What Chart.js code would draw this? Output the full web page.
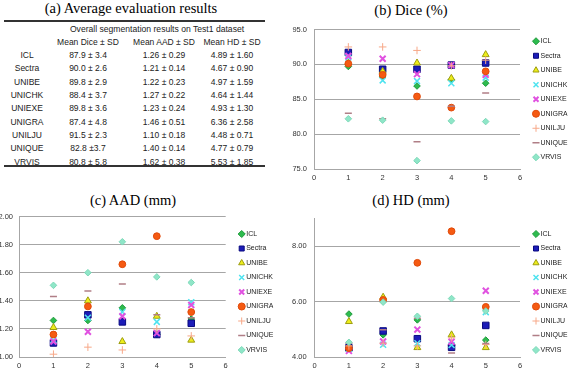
<!DOCTYPE html>
<html>
<head>
<meta charset="utf-8">
<script src="https://cdn.jsdelivr.net/npm/chart.js@4.4.0/dist/chart.umd.min.js"></script>
<style>
body { margin: 0; width: 568px; height: 380px; background: #fff; position: relative; overflow: hidden; font-family: "Liberation Sans", Arial, sans-serif; }
.title { position: absolute; font-family: "Liberation Serif", "Times New Roman", serif; font-size: 14.5px; line-height: 1; color: #000; white-space: nowrap; transform: translate(-50%, -50%); }
.cell { position: absolute; font-size: 8.5px; line-height: 1; color: #222; white-space: nowrap; transform: translate(-50%, -50%); }
.rule { position: absolute; left: 4px; width: 261px; height: 2px; background: #333; }
.box { position: absolute; }
</style>
</head>
<body>

<div class="title" style="left:131px; top:8px">(a) Average evaluation results</div>
<div class="title" style="left:411px; top:10px">(b) Dice (%)</div>
<div class="title" style="left:133px; top:200px">(c) AAD (mm)</div>
<div class="title" style="left:411px; top:200px">(d) HD (mm)</div>

<div class="rule" style="top:20px"></div>
<div class="rule" style="top:165px"></div>
<div id="table"></div>

<div class="box" style="left:284px; top:18px"><canvas id="dice" width="284" height="165"></canvas></div>
<div class="box" style="left:0px; top:206px"><canvas id="aad" width="284" height="165"></canvas></div>
<div class="box" style="left:284px; top:206px"><canvas id="hd" width="284" height="165"></canvas></div>

<script>
// test cases on the x axis
var cases = [1, 2, 3, 4, 5];

var teams = ['ICL', 'Sectra', 'UNIBE', 'UNICHK', 'UNIEXE', 'UNIGRA', 'UNILJU', 'UNIQUE', 'VRVIS'];

// table (a)
var tableCaption = 'Overall segmentation results on Test1 dataset';
var tableHeads = ['Mean Dice \u00b1 SD', 'Mean AAD \u00b1 SD', 'Mean HD \u00b1 SD'];
var meanDice = ['87.9 \u00b1 3.4', '90.0 \u00b1 2.6', '89.8 \u00b1 2.9', '88.4 \u00b1 3.7', '89.8 \u00b1 3.6',
                '87.4 \u00b1 4.8', '91.5 \u00b1 2.3', '82.8 \u00b13.7', '80.8 \u00b1 5.8'];
var meanAAD = ['1.26 \u00b1 0.29', '1.21 \u00b1 0.14', '1.22 \u00b1 0.23', '1.27 \u00b1 0.22', '1.23 \u00b1 0.24',
               '1.46 \u00b1 0.51', '1.10 \u00b1 0.18', '1.40 \u00b1 0.14', '1.62 \u00b1 0.38'];
var meanHD = ['4.89 \u00b1 1.60', '4.67 \u00b1 0.90', '4.97 \u00b1 1.59', '4.64 \u00b1 1.44', '4.93 \u00b1 1.30',
              '6.36 \u00b1 2.58', '4.48 \u00b1 0.71', '4.77 \u00b1 0.79', '5.53 \u00b1 1.85'];

// per-case values, one row per team (same order as teams)
var diceValues = [
    [89.7, 88.2, 86.9, 87.8, 87.3],
    [91.7, 89.3, 89.3, 89.9, 90.2],
    [90.2, 89.0, 90.2, 88.0, 91.4],
    [91.0, 87.7, 87.6, 87.3, 88.1],
    [91.2, 90.8, 88.6, 89.9, 88.5],
    [90.1, 88.5, 85.4, 83.8, 89.0],
    [92.5, 92.5, 92.0, 89.8, 90.6],
    [83.0, 82.2, 78.9, 84.0, 85.9],
    [82.2, 82.0, 76.2, 81.9, 81.8]
];
var aadValues = [
    [1.26, 1.26, 1.35, 1.16, 1.27],
    [1.10, 1.30, 1.25, 1.16, 1.24],
    [1.21, 1.40, 1.11, 1.29, 1.12],
    [1.12, 1.28, 1.32, 1.25, 1.39],
    [1.11, 1.18, 1.29, 1.17, 1.37],
    [1.16, 1.36, 1.66, 1.86, 1.32],
    [1.02, 1.07, 1.05, 1.20, 1.15],
    [1.43, 1.47, 1.52, 1.30, 1.28],
    [1.51, 1.60, 1.82, 1.57, 1.53]
];
var hdValues = [
    [5.55, 4.80, 5.34, 4.42, 4.61],
    [4.33, 4.94, 4.66, 4.35, 5.14],
    [5.28, 6.16, 4.34, 4.80, 4.34],
    [4.30, 4.44, 4.50, 4.43, 5.62],
    [4.22, 4.56, 4.99, 4.55, 6.39],
    [4.32, 6.06, 7.40, 8.54, 5.81],
    [4.40, 4.50, 4.40, 4.69, 4.45],
    [4.50, 4.98, 5.40, 4.14, 4.49],
    [4.53, 5.98, 5.47, 6.11, 5.66]
];

// marker look of each team, excel-like
var markers = [
    { pointStyle: 'rectRot', radius: 3.3, bg: '#2dbb4e', border: '#1f9a3c', bw: 1 },
    { pointStyle: 'rect', radius: 4.6, bg: '#1c1cb8', border: '#0a0a80', bw: 1 },
    { pointStyle: 'triangle', radius: 4, bg: '#eded1a', border: '#9d9d10', bw: 1 },
    { pointStyle: 'crossRot', radius: 4.2, bg: '#4fe3ef', border: '#4fe3ef', bw: 1.5 },
    { pointStyle: 'crossRot', radius: 4.2, bg: '#e052e0', border: '#e052e0', bw: 2 },
    { pointStyle: 'circle', radius: 3.4, bg: '#f55a12', border: '#e04a0a', bw: 1 },
    { pointStyle: 'cross', radius: 3.8, bg: '#f7a888', border: '#f7a888', bw: 1 },
    { pointStyle: 'line', radius: 3.5, bg: '#b07e86', border: '#b07e86', bw: 1.5 },
    { pointStyle: 'rectRot', radius: 3.3, bg: '#8fe6c8', border: '#7dd8b8', bw: 1 }
];

var sans = '"Liberation Sans", Arial, sans-serif';
var gridGray = '#a6a6a6';

/**
 * writes the text of table (a) as positioned cells
 */
function drawTable() {
    var host = document.getElementById('table');
    var colX = [27, 88, 164, 232];
    function cell(text, x, y, size) {
        var d = document.createElement('div');
        d.className = 'cell';
        d.style.left = x + 'px';
        d.style.top = y + 'px';
        if (size) d.style.fontSize = size + 'px';
        d.textContent = text;
        host.appendChild(d);
    }
    cell(tableCaption, 157, 29, 8.6);
    for (var h = 0; h < tableHeads.length; h++)
        cell(tableHeads[h], colX[h + 1], 42);
    for (var i = 0; i < teams.length; i++) {
        var y = 55 + i * 13.33;
        cell(teams[i], colX[0], y);
        cell(meanDice[i], colX[1], y);
        cell(meanAAD[i], colX[2], y);
        cell(meanHD[i], colX[3], y);
    }
}

function makeDatasets(values) {
    return teams.map(function (name, i) {
        var m = markers[i];
        return {
            label: name,
            data: cases.map(function (c, j) { return { x: c, y: values[i][j] }; }),
            order: -i,   // later series on top, like excel
            pointStyle: m.pointStyle,
            pointRadius: m.radius,
            pointBackgroundColor: m.bg,
            pointBorderColor: m.border,
            pointBorderWidth: m.bw,
            backgroundColor: m.bg,
            borderColor: m.border,
            borderWidth: m.bw
        };
    });
}

/**
 * one scatter panel with its legend on the right
 */
function makeChart(id, values, y, axisWidth, padRight, legendFull) {
    var ctx = document.getElementById(id);
    return new Chart(ctx, {
        type: 'scatter',
        data: { datasets: makeDatasets(values) },
        options: {
            responsive: false,
            animation: false,
            layout: { padding: { top: 7, right: padRight, left: 0, bottom: 0 } },
            plugins: {
                tooltip: { enabled: false },
                legend: {
                    position: 'right',
                    fullSize: legendFull,
                    maxWidth: 40,
                    labels: {
                        usePointStyle: true,
                        boxWidth: 2,
                        boxHeight: 5,
                        padding: 7.5,
                        color: '#222',
                        font: { size: 7, family: sans },
                        sort: function (a, b) { return a.datasetIndex - b.datasetIndex; }
                    }
                }
            },
            scales: {
                x: {
                    type: 'linear', min: 0, max: 6,
                    ticks: { stepSize: 1, padding: 4, color: '#333', font: { size: 7.5, family: sans } },
                    grid: { display: false, drawTicks: false },
                    border: { color: gridGray },
                    afterFit: function (s) { s.height = 14; }
                },
                y: {
                    type: 'linear', min: y.min, max: y.max,
                    ticks: {
                        stepSize: y.step, padding: y.pad, color: '#333', font: { size: 7.5, family: sans },
                        callback: function (v) { return v > y.lastTick + 1e-9 ? '' : v.toFixed(y.digits); }
                    },
                    grid: {
                        drawTicks: false,
                        color: function (c) { return c.tick && c.tick.value > y.lastTick + 1e-9 ? 'rgba(0,0,0,0)' : gridGray; }
                    },
                    border: { color: gridGray },
                    afterFit: function (s) { s.width = axisWidth; }
                },
                gap: {
                    type: 'linear', position: 'right', display: true,
                    grid: { display: false, drawTicks: false },
                    border: { display: false },
                    ticks: { display: false },
                    afterFit: function (s) { s.width = 7.5; }
                }
            }
        }
    });
}

drawTable();
makeChart('dice', diceValues, { min: 75, max: 95, step: 5, lastTick: 95, digits: 1, pad: 7 }, 30, 0.5, false);
makeChart('aad', aadValues, { min: 1, max: 2, step: 0.2, lastTick: 2, digits: 2, pad: 6 }, 19, 10.8, true);
makeChart('hd', hdValues, { min: 4, max: 9, step: 2, lastTick: 8, digits: 2, pad: 8 }, 30.7, 0.5, true);
</script>
</body>
</html>
